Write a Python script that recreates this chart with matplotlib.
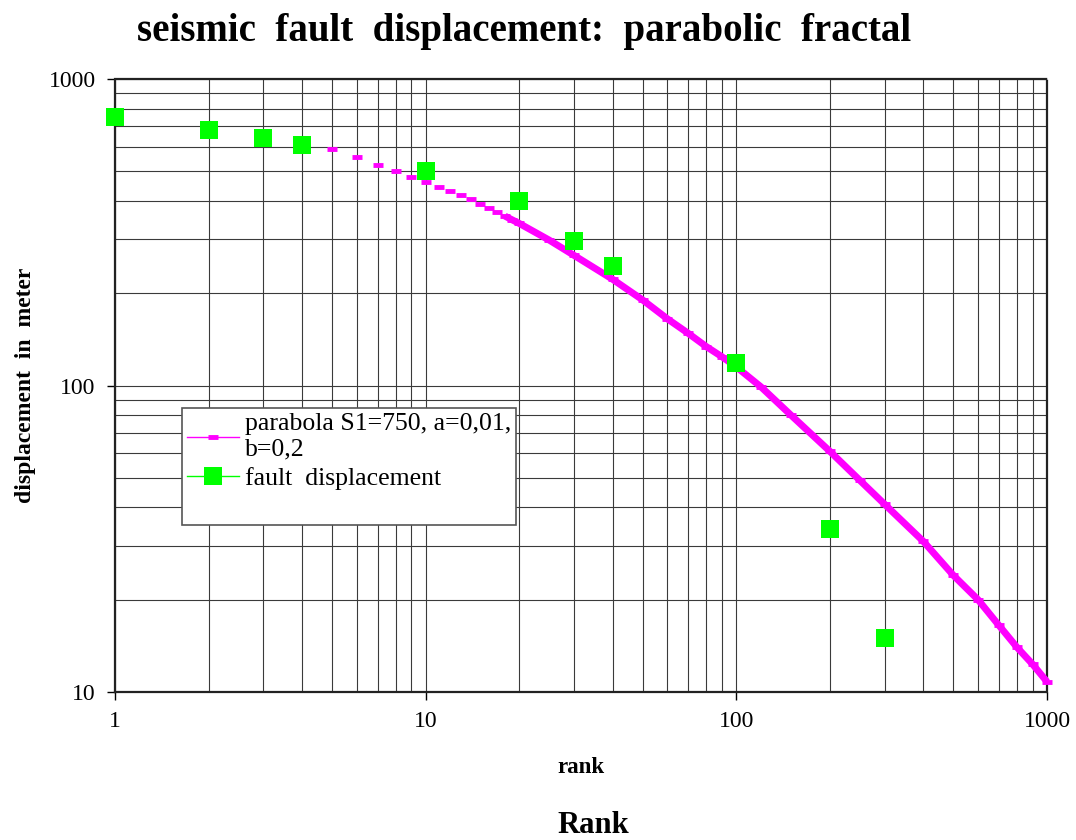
import numpy as np
import matplotlib
matplotlib.use("Agg")
import matplotlib.pyplot as plt
from matplotlib.lines import Line2D

plt.rcParams['font.family'] = ['Liberation Serif', 'DejaVu Serif']

# parabola curve
par_rank = [1, 2, 3, 4, 5, 6, 7, 8, 9, 10, 11, 12, 13, 14, 15, 16, 17, 18, 19, 20,
            25, 30, 40, 50, 60, 70, 80, 90, 100, 120, 150, 200, 250, 300,
            400, 500, 600, 700, 800, 900, 1000]
par_disp = [750, 712, 675, 635, 590, 555, 525, 500, 480, 462, 445, 432, 418, 405, 391,
            378, 367, 357, 347, 338, 298, 266, 222, 190, 165, 148, 134, 124, 115,
            99, 80, 61, 49, 41, 31, 24, 20, 16.5, 14, 12.3, 10.8]

# observed fault displacement
fault_rank = [1, 2, 3, 4, 10, 20, 30, 40, 100, 200, 300]
fault_disp = [750, 680, 640, 610, 500, 400, 295, 245, 118, 34, 15]

magenta = '#FF00FF'
green = '#00FF00'

fig = plt.figure(figsize=(10.76, 8.4), dpi=100)
ax = fig.add_axes([115/1076, 1-692/840, 932/1076, 613/840])

ax.set_xscale('log')
ax.set_yscale('log')
ax.set_xlim(1, 1000)
ax.set_ylim(10, 1000)

# grid at every major and minor decade step
ax.grid(True, which='both', color='#3a3a3a', linewidth=0.8)
ax.set_axisbelow(True)

# dense part of the curve as a thick band, sparse part as dash markers
r = np.array(par_rank)
d = np.array(par_disp)
dense = r >= 18
ax.plot(r[dense], d[dense], color=magenta, lw=5.0, solid_capstyle='butt', zorder=3,
        clip_on=False)
ax.plot(r, d, linestyle='none', marker='_', markersize=7, markeredgewidth=3.5,
        color=magenta, zorder=3, clip_on=False)

ax.plot(fault_rank, fault_disp, linestyle='none', marker='s', markersize=13.5,
        color=green, markeredgewidth=0, zorder=4, clip_on=False)

for s in ax.spines.values():
    s.set_linestyle((0, (1, 1)))
    s.set_linewidth(1.6)
    s.set_color('#222222')

ax.set_xticks([1, 10, 100, 1000])
ax.set_xticklabels(['1', '10', '100', '1000'])
ax.set_yticks([10, 100, 1000])
ax.set_yticklabels(['10', '100', '1000'])
ax.tick_params(which='major', direction='out', length=6, width=1, labelsize=17)
ax.tick_params(axis='x', pad=8)
ax.tick_params(axis='y', pad=8)
ax.tick_params(which='minor', length=0)

ax.set_xlabel('rank', fontsize=16.5, fontweight='bold', labelpad=18)
ax.set_ylabel('displacement  in  meter', fontsize=17, fontweight='bold', labelpad=9)

fig.text(0.487, 0.962, 'seismic  fault  displacement:  parabolic  fractal',
         ha='center', va='center', fontsize=28, fontweight='bold')
fig.text(0.551, 0.017, 'Rank', ha='center', va='center', fontsize=22, fontweight='bold')

handles = [
    Line2D([], [], color=magenta, lw=1, marker='_', markersize=7, markeredgewidth=3.5),
    Line2D([], [], color=green, lw=1, marker='s', markersize=13.5, markeredgewidth=0),
    Line2D([], [], linestyle='none'),
]
labels = ['parabola S1=750, a=0,01,\nb=0,2', 'fault  displacement', ' ']
leg = ax.legend(handles, labels, loc='upper left', bbox_to_anchor=(0.072, 0.463),
                fontsize=18.5, frameon=True, fancybox=False, edgecolor='#555555',
                framealpha=1, handlelength=2.0, handletextpad=0.25, borderpad=0.2,
                labelspacing=0.25, borderaxespad=0)
leg.get_frame().set_linewidth(1.2)

fig.savefig('out.png', dpi=100)
